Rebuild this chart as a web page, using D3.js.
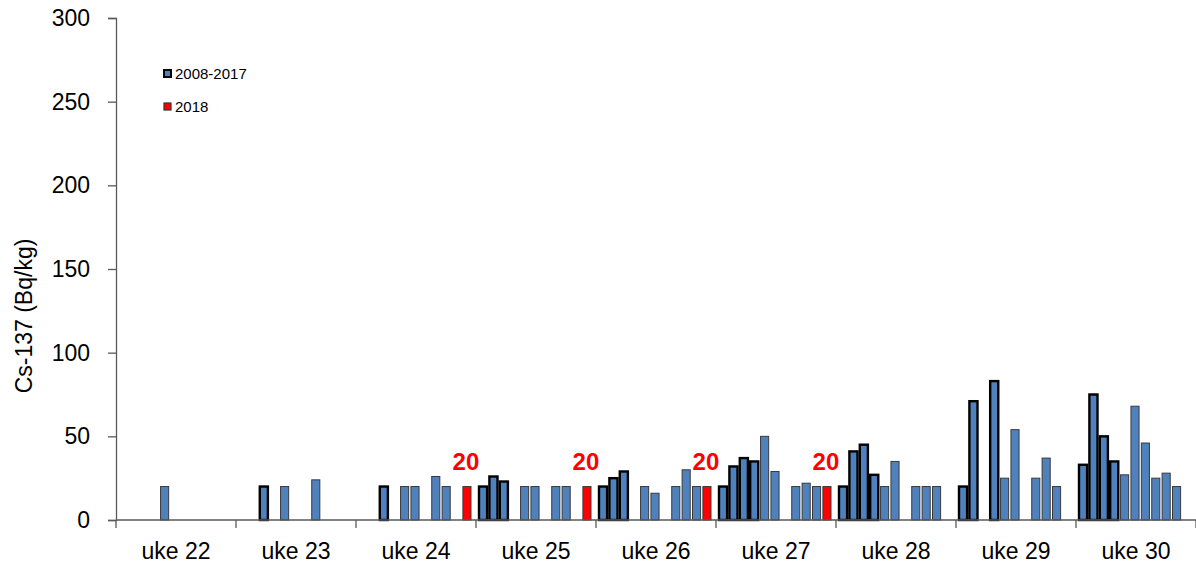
<!DOCTYPE html>
<html>
<head>
<meta charset="utf-8">
<script src="https://cdn.jsdelivr.net/npm/d3@7"></script>
<style>
	body { margin: 0; background: #fff; }
	text { font-family: Arial, "Liberation Sans", sans-serif; }
</style>
</head>
<body>
<svg id="chart"></svg>
<script>
'use strict'

// week categories along the x axis
var weeks = ["uke 22", "uke 23", "uke 24", "uke 25", "uke 26", "uke 27", "uke 28", "uke 29", "uke 30"];

// one slot per year inside each week
var years = ["2008", "2009", "2010", "2011", "2012", "2013", "2014", "2015", "2016", "2017", "2018"];

// Cs-137 (Bq/kg) per week, in year order (null = no sample)
var uke22 = [null, null, null, null, 20, null, null, null, null, null, null];
var uke23 = [null, null, 20, null, 20, null, null, 24, null, null, null];
var uke24 = [null, null, 20, null, 20, 20, null, 26, 20, null, 20];
var uke25 = [20, 26, 23, null, 20, 20, null, 20, 20, null, 20];
var uke26 = [20, 25, 29, null, 20, 16, null, 20, 30, 20, 20];
var uke27 = [20, 32, 37, 35, 50, 29, null, 20, 22, 20, 20];
var uke28 = [20, 41, 45, 27, 20, 35, null, 20, 20, 20, null];
var uke29 = [20, 71, null, 83, 25, 54, null, 25, 37, 20, null];
var uke30 = [33, 75, 50, 35, 27, 68, 46, 25, 28, 20, null];

var weekValues = [uke22, uke23, uke24, uke25, uke26, uke27, uke28, uke29, uke30];

var yTicks = [0, 50, 100, 150, 200, 250, 300];

var WIDTH = 1196,
	HEIGHT = 567;

var mLeft = 116,
	mRight = 1196,
	mTop = 18,
	mBottom = 520;

var blue = "#4f81bd",
	red = "#ff0000";

var svg = d3.select("#chart")
	.attr("width", WIDTH)
	.attr("height", HEIGHT)

var x0 = d3.scaleBand()
	.domain(weeks)
	.range([mLeft, mRight])

var x1 = d3.scaleBand()
	.domain(years)
	.range([3, 115])
	.paddingInner(0.22)

var y = d3.scaleLinear()
	.domain([0, 300])
	.range([mBottom, mTop])

// flatten into bar records
var bars = [];
weekValues.forEach(function (vals, i) {
	vals.forEach(function (v, j) {
		if (v !== null) bars.push({ week: weeks[i], year: years[j], value: v });
	});
});

// bars
svg.append("g")
	.selectAll("rect")
	.data(bars)
	.join("rect")
	.attr("x", function (d) { return x0(d.week) + x1(d.year); })
	.attr("y", function (d) { return y(d.value); })
	.attr("width", x1.bandwidth())
	.attr("height", function (d) { return y(0) - y(d.value); })
	.style("fill", function (d) { return d.year === "2018" ? red : blue; })
	.style("stroke", function (d) { return +d.year <= 2011 ? "#000" : "#3a3a3a"; })
	.style("stroke-width", function (d) { return +d.year <= 2011 ? 2.4 : 1; })

// labels on the 2018 bars
svg.append("g")
	.selectAll("text")
	.data(bars.filter(function (d) { return d.year === "2018"; }))
	.join("text")
	.attr("x", function (d) { return x0(d.week) + x1(d.year) + x1.bandwidth() / 2 - 1; })
	.attr("y", function (d) { return y(d.value) - 17; })
	.style("text-anchor", "middle")
	.style("font-size", "24px")
	.style("font-weight", "bold")
	.style("fill", red)
	.text(function (d) { return d.value; })

// y axis
var yAxis = svg.append("g")
	.attr("transform", "translate(" + mLeft + ",0)")
	.call(d3.axisLeft(y).tickValues(yTicks).tickSize(8).tickPadding(18))

yAxis.select(".domain").attr("stroke", "#595959").attr("stroke-width", 1.3)
yAxis.selectAll(".tick line").attr("stroke", "#595959").attr("stroke-width", 1.3)
yAxis.selectAll(".tick text")
	.style("font-size", "23px")
	.style("fill", "#000")
	.style("font-family", "Arial, 'Liberation Sans', sans-serif")

// x axis
var xAxis = svg.append("g")
	.attr("transform", "translate(0," + mBottom + ")")
	.call(d3.axisBottom(x0).tickSize(0).tickPadding(23))

xAxis.select(".domain").attr("d", "M" + mLeft + ",0H" + mRight).attr("stroke", "#595959").attr("stroke-width", 1.3)
xAxis.selectAll(".tick text")
	.style("font-size", "23px")
	.style("fill", "#000")
	.style("font-family", "Arial, 'Liberation Sans', sans-serif")

// week separators
xAxis.selectAll(".sep")
	.data(weeks.concat(["end"]))
	.join("line")
	.attr("class", "sep")
	.attr("x1", function (d, i) { return mLeft + i * x0.step(); })
	.attr("x2", function (d, i) { return mLeft + i * x0.step(); })
	.attr("y1", 0)
	.attr("y2", 8)
	.attr("stroke", "#595959")
	.attr("stroke-width", 1.3)

// y axis title
svg.append("text")
	.attr("transform", "translate(32,316) rotate(-90)")
	.style("text-anchor", "middle")
	.style("font-size", "23px")
	.text("Cs-137 (Bq/kg)")

// legend
var legendItems = [
	{ label: "2008-2017", fill: blue, stroke: "#000", sw: 2 },
	{ label: "2018", fill: red, stroke: "#333", sw: 1.2 }
];

var legend = svg.append("g")
	.selectAll("g")
	.data(legendItems)
	.join("g")
	.attr("transform", function (d, i) { return "translate(164," + (70 + i * 33) + ")"; })

legend.append("rect")
	.attr("width", 7)
	.attr("height", 7)
	.style("fill", function (d) { return d.fill; })
	.style("stroke", function (d) { return d.stroke; })
	.style("stroke-width", function (d) { return d.sw; })

legend.append("text")
	.attr("x", 11)
	.attr("y", 9)
	.style("font-size", "15px")
	.text(function (d) { return d.label; })
</script>
</body>
</html>
